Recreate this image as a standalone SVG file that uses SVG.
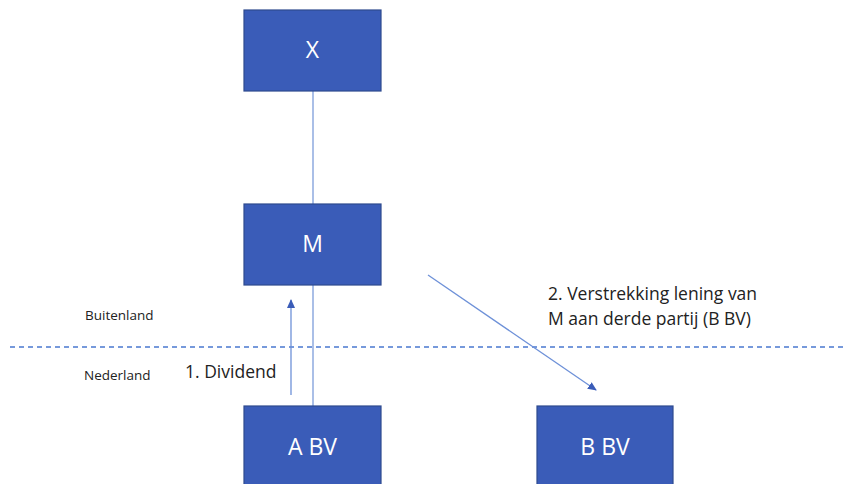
<svg xmlns="http://www.w3.org/2000/svg" width="846" height="484" viewBox="0 0 846 484">
<defs>
<style>
.box{fill:#3a5cb8;stroke:#2e4a8e;stroke-width:1.2}
.bt{fill:#ffffff;font-family:"Open Sans","Liberation Sans",sans-serif;font-size:23px;text-anchor:middle}
.lbl{fill:#222;font-family:"Open Sans","Liberation Sans",sans-serif;font-size:17.5px}
.sm{fill:#222;font-family:"Open Sans","Liberation Sans",sans-serif;font-size:13.5px}
.ln{stroke:#8eaadf;stroke-width:1.5;fill:none}
.ar{stroke:#6e91d8;stroke-width:1.3;fill:none}
</style>
<marker id="ah" markerWidth="10" markerHeight="10" refX="8" refY="5" orient="auto" markerUnits="userSpaceOnUse">
<path d="M0,1 L9,5 L0,9 Z" fill="#3a5cb8"/>
</marker>
</defs>
<rect width="846" height="484" fill="#ffffff"/>
<line x1="10" y1="347" x2="846" y2="347" stroke="#4a78d0" stroke-width="1.5" stroke-dasharray="5,4"/>
<text class="sm" x="85" y="320">Buitenland</text>
<text class="sm" x="84" y="380">Nederland</text>
<g id="connectors">
<line class="ln" x1="313" y1="91" x2="313" y2="204"/>
<line class="ln" x1="313" y1="285" x2="313" y2="406"/>
<line class="ar" x1="291" y1="395" x2="291" y2="300" marker-end="url(#ah)"/>
<line class="ar" x1="428" y1="275" x2="596" y2="390" marker-end="url(#ah)"/>
</g>
<text class="lbl" x="185" y="378">1. Dividend</text>
<text class="lbl" x="548" y="300">2. Verstrekking lening van</text>
<text class="lbl" x="548" y="325">M aan derde partij (B BV)</text>
<g id="X"><rect class="box" x="244" y="10" width="137" height="81"/><text class="bt" x="312.5" y="58">X</text></g>
<g id="M"><rect class="box" x="244" y="204" width="137" height="81"/><text class="bt" x="312.5" y="252">M</text></g>
<g id="ABV"><rect class="box" x="244" y="406" width="137" height="90"/><text class="bt" x="312.5" y="455">A BV</text></g>
<g id="BBV"><rect class="box" x="537" y="406" width="136" height="90"/><text class="bt" x="605" y="455">B BV</text></g>
</svg>
